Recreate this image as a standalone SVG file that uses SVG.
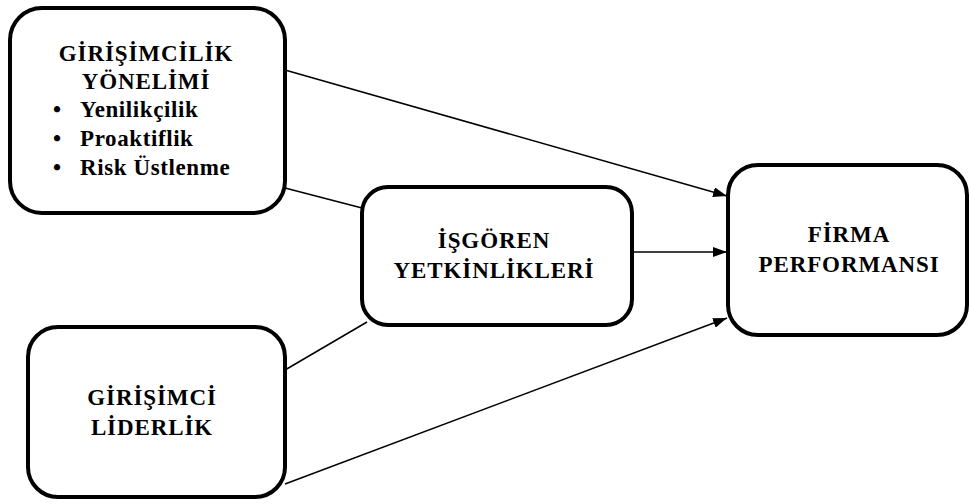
<svg xmlns="http://www.w3.org/2000/svg" width="969" height="504" viewBox="0 0 969 504">
<style>
.box{fill:#fff;stroke:#000;stroke-width:4}
.t{font-family:"Liberation Serif","Times New Roman",serif;font-weight:bold;font-size:23px;fill:#000}
.h{letter-spacing:0.9px;text-anchor:middle}
.b{letter-spacing:0.6px}
.c{stroke:#000;stroke-width:1.5;fill:none}
</style>
<defs>
<marker id="arr" viewBox="0 0 14 10" refX="14" refY="5" markerWidth="14" markerHeight="10" markerUnits="userSpaceOnUse" orient="auto">
<path d="M0,0 L14,5 L0,10 Z" fill="#000"/>
</marker>
</defs>
<rect width="969" height="504" fill="#fff"/>
<g id="connectors">
<line class="c" x1="285" y1="70" x2="727" y2="196" marker-end="url(#arr)"/>
<line class="c" x1="285" y1="188" x2="362" y2="208"/>
<line class="c" x1="632" y1="252" x2="727" y2="252" marker-end="url(#arr)"/>
<line class="c" x1="285" y1="370" x2="367" y2="322"/>
<line class="c" x1="285" y1="484" x2="727" y2="318" marker-end="url(#arr)"/>
</g>
<g id="girisimcilik">
<rect class="box" x="10" y="8" width="275" height="205" rx="32"/>
<text class="t h" x="146" y="61">GİRİŞİMCİLİK</text>
<text class="t h" x="146" y="89">YÖNELİMİ</text>
<text class="t" x="53" y="117">•</text>
<text class="t b" x="80" y="117">Yenilikçilik</text>
<text class="t" x="53" y="146">•</text>
<text class="t b" x="80" y="146">Proaktiflik</text>
<text class="t" x="53" y="175">•</text>
<text class="t b" x="80" y="175">Risk Üstlenme</text>
</g>
<g id="isgoren">
<rect class="box" x="362" y="187" width="270" height="138" rx="26"/>
<text class="t h" x="494" y="248">İŞGÖREN</text>
<text class="t h" x="494" y="278">YETKİNLİKLERİ</text>
</g>
<g id="firma">
<rect class="box" x="728" y="165" width="239" height="170" rx="30"/>
<text class="t h" x="849" y="242">FİRMA</text>
<text class="t h" x="849" y="272">PERFORMANSI</text>
</g>
<g id="lider">
<rect class="box" x="28" y="327" width="257" height="170" rx="30"/>
<text class="t h" x="152" y="405">GİRİŞİMCİ</text>
<text class="t h" x="152" y="435">LİDERLİK</text>
</g>
</svg>
